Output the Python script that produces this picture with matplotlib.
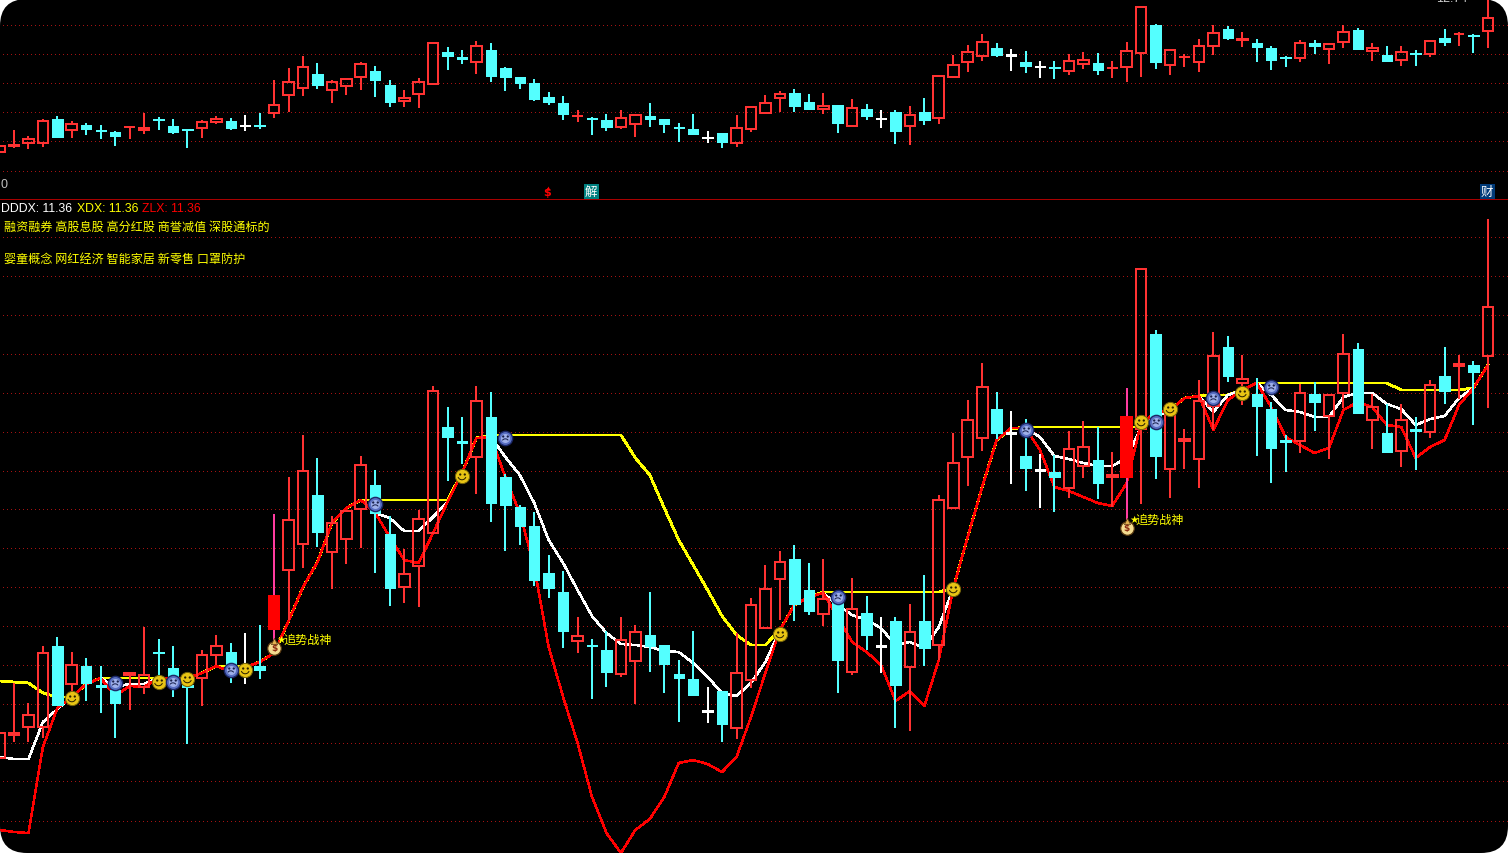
import matplotlib
matplotlib.use("Agg")
import matplotlib.pyplot as plt
import numpy as np
from matplotlib.patches import FancyBboxPatch
from matplotlib.path import Path
from matplotlib.transforms import Affine2D

plt.rcParams['font.family'] = ['Noto Sans CJK SC', 'DejaVu Sans']

W, H = 1508, 854
SPLIT = 199

# r = up, c = down, w = doji, same candles in both panes
kinds = list("rrrrcrcccrrcccrrcwc" "rrrcrrrccrrrccrcccccc" "rccrrccccwcrrrrccrcrcwcrcrrrr"
             "cwcwcrrcrrrcrrrrcrcccrcrrcrcrcrcrcr")

# upper pane, values read as image rows
top_up = [145,144,138,120,119,123,125,130,132,126,127,119,126,129,121,118,121,125,125,104,81,66,74,81,78,63,71,85,97,81,42,52,57,45,50,68,77,83,97,103,115,118,120,117,114,116,119,127,129,137,133,127,106,102,93,93,102,105,105,107,109,118,112,114,112,75,64,51,41,48,54,62,66,67,60,59,63,67,50,6,25,49,56,45,32,29,38,43,48,57,42,43,43,31,30,47,55,51,53,40,38,33,35,17]
bot_up = [153,147,144,144,137,131,129,131,136,128,131,120,132,130,129,123,128,126,126,114,96,89,85,91,87,78,80,102,102,95,85,56,59,63,76,77,83,99,102,114,117,119,127,128,125,119,124,128,134,138,142,144,130,114,99,106,109,110,123,127,116,119,131,127,120,119,78,63,57,55,56,66,67,68,72,65,70,69,68,54,62,66,58,63,47,38,41,47,60,58,59,46,50,43,49,52,61,61,54,55,42,35,36,32]
hi_up = [145,130,136,119,116,121,123,125,131,126,113,117,119,129,120,116,118,115,113,80,68,56,63,80,78,62,66,80,90,78,42,47,50,41,43,67,77,79,92,96,110,117,114,110,114,103,119,123,114,131,133,115,106,95,91,89,94,93,105,99,104,110,110,106,98,75,55,45,34,43,49,51,61,61,54,52,53,61,42,6,24,49,54,39,25,26,32,39,46,56,40,40,43,25,28,43,46,46,50,40,29,32,34,0]
lo_up = [153,148,149,147,138,138,135,139,146,139,134,130,134,148,138,124,130,131,129,118,112,96,89,103,95,90,97,107,107,108,85,70,64,74,82,91,89,101,105,120,122,135,131,129,137,127,133,142,134,143,148,147,132,114,112,112,110,114,133,127,120,128,144,145,125,124,78,72,61,57,71,73,78,79,75,69,75,78,82,77,69,75,67,72,55,40,47,62,70,67,62,54,64,48,49,61,61,66,66,57,46,46,53,48]

# lower pane
top_lo = [732,732,714,652,646,664,666,685,690,672,674,652,668,685,654,645,652,666,666,595,519,470,495,522,510,464,485,534,573,518,390,427,441,400,417,477,507,526,573,592,635,645,650,639,631,635,645,674,679,710,691,672,604,588,561,559,590,598,602,608,613,645,621,631,621,499,462,419,386,409,432,456,469,472,448,446,460,474,416,268,334,408,438,400,355,347,378,394,409,440,392,394,394,353,349,406,433,419,429,384,376,363,365,306]
bot_lo = [759,736,728,728,705,685,683,687,703,676,688,653,687,687,679,656,667,668,670,630,571,545,532,553,540,510,513,588,588,567,534,437,443,458,503,505,526,580,588,631,642,646,672,675,662,646,664,678,695,712,724,729,681,629,580,604,611,615,660,673,635,647,685,668,648,646,509,458,439,433,434,468,471,477,489,467,483,478,478,430,456,470,442,460,407,376,384,406,448,442,442,402,417,394,413,421,452,452,431,433,391,367,372,357]
hi_lo = [732,683,703,646,637,652,658,666,680,672,627,639,646,685,650,635,643,633,625,514,477,435,458,516,510,456,470,516,549,510,386,407,417,386,392,474,505,512,555,571,617,639,631,617,625,592,645,660,631,687,691,633,598,565,551,545,563,559,593,578,596,617,617,604,575,495,433,400,363,392,411,419,454,455,431,421,427,452,388,268,330,408,429,380,332,336,355,378,402,435,384,382,394,334,343,394,404,404,417,380,347,355,361,219]
lo_lo = [759,742,742,738,705,697,701,713,738,710,694,677,697,744,706,665,683,684,679,643,620,568,547,589,564,548,573,606,603,607,534,481,464,494,522,551,545,586,598,648,653,699,687,677,704,672,693,722,695,723,742,739,688,629,620,621,615,626,693,675,650,673,728,731,666,660,509,486,451,439,484,491,508,512,498,478,499,507,520,504,479,498,469,488,430,382,405,456,483,472,453,431,459,408,413,449,452,467,470,438,404,399,425,408]

zlx = [830,832,833,747,708,697,684,678,696,686,687,678,678,678,673,666,672,667,662,653,621,587,562,523,508,500,513,537,560,563,533,502,473,438,437,477,513,567,647,697,743,797,833,853,830,819,797,763,760,764,772,757,717,673,630,605,597,593,617,642,652,665,701,691,706,660,588,537,487,440,428,428,450,487,491,497,503,506,483,423,413,410,398,396,430,400,390,383,407,437,445,453,448,410,402,407,425,427,458,447,440,405,388,365]
dddx = [757,759,759,722,709,697,684,678,687,684,684,678,678,678,673,666,672,667,662,653,621,587,562,523,508,500,513,518,531,531,517,502,473,438,437,457,475,503,540,563,590,616,633,644,645,647,651,652,663,677,693,696,683,662,630,605,597,593,605,615,620,628,645,642,648,627,588,537,487,440,428,428,437,456,459,463,466,466,458,427,417,410,398,396,412,395,390,383,395,410,412,417,417,397,393,393,404,409,425,419,416,398,388,365]
xdx = [681,682,683,693,697,697,684,678,678,678,678,678,678,678,673,666,666,667,662,653,621,587,562,523,508,500,500,500,500,500,500,500,473,438,435,435,435,435,435,435,435,435,435,435,458,475,508,540,565,590,616,635,645,645,630,605,597,592,592,592,592,592,592,592,592,592,588,537,487,440,429,427,427,427,427,427,427,427,427,427,417,410,398,396,395,395,390,383,383,383,383,383,383,383,383,383,383,390,390,390,390,390,388,365]

# signals
limit_idx = [19, 78]
smile_idx = [5, 11, 13, 17, 32, 54, 66, 79, 81, 86]
smile_y = [698, 682, 679, 670, 476, 634, 589, 422, 409, 393]
sad_idx = [8, 12, 16, 26, 35, 58, 71, 80, 84, 88]
sad_y = [683, 682, 670, 504, 438, 597, 430, 422, 398, 387]
bag_idx = [19, 78]
bag_y = [648, 528]

grid_up = [26, 55, 84, 113, 142, 172]
grid_lo = [238, 277, 316, 355, 394, 433, 472, 510, 549, 588, 627, 666, 705, 744, 782, 822]

RED = '#ff3232'
CYAN = '#54ffff'
colors = {'r': RED, 'c': CYAN, 'w': 'white'}
XLIM = (0.03, 104.39)
PX = 72 / 100  # one image pixel in points


def candles(ax, top, bot, hi, lo, limit=()):
    x = np.arange(len(kinds))
    top, bot, hi, lo = map(np.array, (top, bot, hi, lo))
    for k in 'rcw':
        idx = np.array([i for i, c in enumerate(kinds) if c == k and i not in limit])
        col = colors[k]
        ax.vlines(x[idx], hi[idx], top[idx], color=col, lw=2 * PX, antialiased=False, zorder=5)
        ax.vlines(x[idx], bot[idx], lo[idx], color=col, lw=2 * PX, antialiased=False, zorder=5)
        if k == 'r':
            ax.bar(x[idx], bot[idx] - top[idx] - 2, bottom=top[idx] + 1, width=0.74, facecolor='none',
                   edgecolor=col, linewidth=2 * PX, antialiased=False, zorder=6)
        else:
            ax.bar(x[idx], bot[idx] - top[idx], bottom=top[idx], width=0.72, facecolor=col,
                   edgecolor=col, linewidth=PX, antialiased=False, zorder=6)
    if len(limit):
        idx = np.array(limit)
        ax.vlines(x[idx], hi[idx], lo[idx], color='#ff3ca0', lw=2 * PX, antialiased=False, zorder=5)
        ax.bar(x[idx], bot[idx] - top[idx], bottom=top[idx], width=0.88, color='#ff0000',
               antialiased=False, zorder=6)


def pane(rect, ylim, rows):
    ax = fig.add_axes(rect)
    ax.set_xlim(*XLIM)
    ax.set_ylim(*ylim)
    ax.axis('off')
    # one pixel dot every four pixels
    dots = np.arange(0.25, XLIM[1], 4 / 14.45)
    for r in rows:
        ax.plot(dots, np.full(dots.shape, r), ls='none', marker=',', color='#a51212', zorder=1)
    return ax


def glyph(*parts):
    # keeps face scale: radius 1 in the path = radius of the 'o' marker
    return Path.make_compound_path(Path([(1, 1)], [Path.MOVETO]), Path([(-1, -1)], [Path.MOVETO]), *parts)


eyes = glyph(Path.circle((-0.32, 0.28), 0.16), Path.circle((0.32, 0.28), 0.16))
mouth_up = glyph(Affine2D().scale(0.58).translate(0, 0.05).transform_path(Path.arc(200, 340)))
mouth_down = glyph(Affine2D().scale(0.5).translate(0, -0.62).transform_path(Path.arc(35, 145)))

fig = plt.figure(figsize=(W / 100, H / 100), dpi=100, facecolor='white')
fig.add_artist(FancyBboxPatch((0, 0), W / 100, H / 100, boxstyle='round,pad=0,rounding_size=0.27',
                              transform=fig.dpi_scale_trans, facecolor='black', edgecolor='none', zorder=-1))

# row r sits on the pixel below its edge, so the limits are moved by one row
ax_up = pane([0, 1 - SPLIT / H, 1, SPLIT / H], (SPLIT - 1, -1), grid_up)
ax_lo = pane([0, 0, 1, 1 - SPLIT / H], (H - 1, SPLIT - 1), grid_lo)

candles(ax_up, top_up, bot_up, hi_up, lo_up)

xs = np.arange(len(zlx))
ax_lo.plot(xs, xdx, color='#ffff00', lw=1.8 * PX, antialiased=False, zorder=2)
ax_lo.plot(xs, dddx, color='white', lw=1.5 * PX, antialiased=False, zorder=3)
ax_lo.plot(xs, zlx, color='#ff0000', lw=1.5 * PX, antialiased=False, zorder=4)
candles(ax_lo, top_lo, bot_lo, hi_lo, lo_lo, limit_idx)

# smiling and sad faces
S = 105
ax_lo.scatter(smile_idx, smile_y, s=S, color='#e8c414', edgecolors='#75640a', linewidths=PX, zorder=8)
ax_lo.scatter(smile_idx, smile_y, s=S, marker=eyes, color='#2a2000', linewidths=0, zorder=9)
ax_lo.scatter(smile_idx, smile_y, s=S, marker=mouth_up, facecolors='none', edgecolors='#2a2000', linewidths=PX, zorder=9)
ax_lo.scatter(sad_idx, sad_y, s=S, color='#5a70c4', edgecolors='#1c2868', linewidths=1.4 * PX, zorder=8)
ax_lo.scatter(sad_idx, sad_y, s=S * 0.4, color='#9fb0ea', linewidths=0, zorder=8)
ax_lo.scatter(sad_idx, sad_y, s=S, marker=eyes, color='#18204c', linewidths=0, zorder=9)
ax_lo.scatter(sad_idx, sad_y, s=S, marker=mouth_down, facecolors='none', edgecolors='#18204c', linewidths=PX, zorder=9)

# money bag, star and signal text
ax_lo.scatter(bag_idx, bag_y, s=95, color='#f4dc90', edgecolors='#5a3a10', linewidths=1.2 * PX, zorder=8)
for i, y in zip(bag_idx, bag_y):
    ax_lo.annotate('$', xy=(i, y), ha='center', va='center', color='#8a2a10', fontsize=6.5,
                   fontweight='bold', family='DejaVu Sans', zorder=9)
    ax_lo.scatter([i], [y - 7], s=20, marker='^', color='#e0b050', edgecolors='#5a3a10', linewidths=0.5, zorder=8)
    ax_lo.annotate('★', xy=(i, y), xytext=(2.5 * PX, 9 * PX), textcoords='offset points', ha='left', va='center',
                   color='#ffff00', fontsize=7.5, family='DejaVu Sans', zorder=9)
    ax_lo.annotate('追势战神', xy=(i, y), xytext=(9 * PX, 9 * PX), textcoords='offset points', ha='left', va='center',
                   color='#ffff00', fontsize=8.7, zorder=9)


def label(x, y, s, color, size=8.7, **kw):
    return fig.text(x / W, 1 - y / H, s, color=color, fontsize=size, va='center', **kw)


# pane separator
ax_lo.hlines([SPLIT + 0.2], XLIM[0], XLIM[1], color='#a80000', lw=PX, antialiased=False,
             clip_on=False, zorder=2)

label(1, 208.5, 'DDDX: 11.36', 'white', family='Liberation Sans', size=8.8)
label(77, 208.5, 'XDX: 11.36', '#ffff00', family='Liberation Sans', size=8.8)
label(142, 208.5, 'ZLX: 11.36', '#ff0000', family='Liberation Sans', size=8.8)
label(4, 227.5, '融资融券 高股息股 高分红股 商誉减值 深股通标的', '#ffff00')
label(4, 259.5, '婴童概念 网红经济 智能家居 新零售 口罩防护', '#ffff00')

label(0.5, 184.5, '0', '#c0c0c0', family='Liberation Sans', size=9)
fig.text(1436 / W, 1 - 2 / H, '12.74', color='#d0d0d0', fontsize=9, family='Liberation Sans', va='baseline')

label(547, 193.5, '$', '#ff0000', family='DejaVu Sans', size=8, fontweight='bold', ha='center')
ax_up.scatter([37.95], [188], s=8, marker='^', color='#ff0000', linewidths=0, zorder=7)
label(591, 192.5, '解', 'white', ha='center', size=9, bbox=dict(boxstyle='square,pad=0.1', fc='#008080', ec='none'))
label(1487, 192.5, '财', 'white', ha='center', size=9, bbox=dict(boxstyle='square,pad=0.1', fc='#003a78', ec='none'))

fig.savefig('out.png', dpi=100, facecolor=fig.get_facecolor())
